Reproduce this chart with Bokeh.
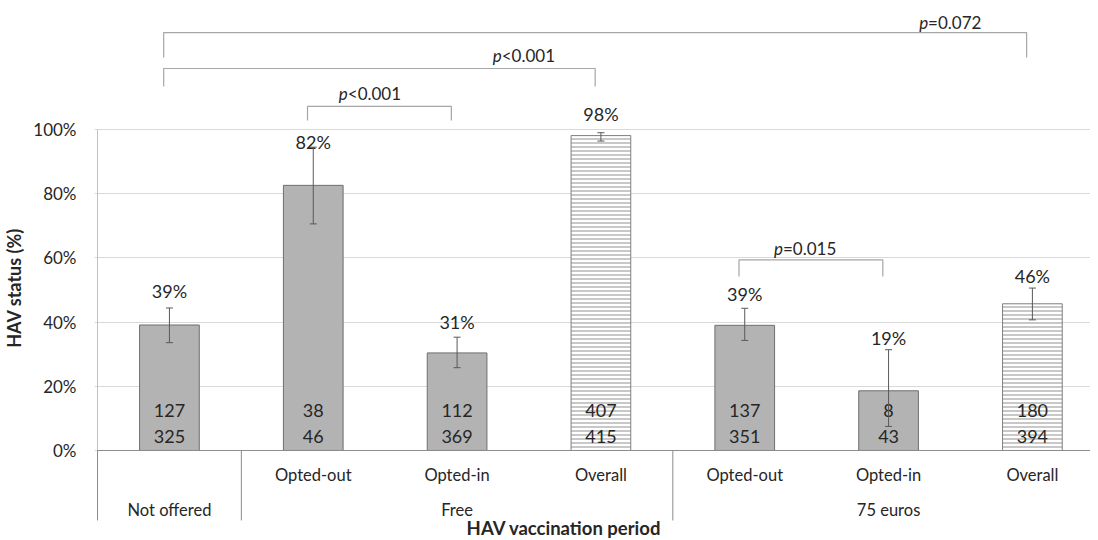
from bokeh.plotting import figure
from bokeh.models import Range1d, FixedTicker, NumeralTickFormatter, ColumnDataSource, Whisker, TeeHead
from bokeh.core.properties import value
from bokeh.embed import file_html
from bokeh.resources import INLINE

# ---------------- data ----------------
groups = ["Not offered", "Free", "Free", "Free", "75 euros", "75 euros", "75 euros"]
subcats = ["", "Opted-out", "Opted-in", "Overall", "Opted-out", "Opted-in", "Overall"]
pct = [0.391, 0.826, 0.304, 0.981, 0.390, 0.186, 0.457]
pct_labels = ["39%", "82%", "31%", "98%", "39%", "19%", "46%"]
ci_low = [0.336, 0.706, 0.258, 0.964, 0.343, 0.075, 0.407]
ci_high = [0.444, 0.945, 0.353, 0.990, 0.443, 0.314, 0.506]
numerators = [127, 38, 112, 407, 137, 8, 180]
denominators = [325, 46, 369, 415, 351, 43, 394]
is_overall = [False, False, False, True, False, False, True]

cmp_left = [0, 0, 1, 4]
cmp_right = [6, 3, 2, 5]
cmp_p = ["=0.072", "<0.001", "<0.001", "=0.015"]

y_ticks = [0, 0.2, 0.4, 0.6, 0.8, 1.0]

# ---------------- layout (positions) ----------------
label_y = [0.498, 0.960, 0.399, 1.047, 0.489, 0.352, 0.545]
bracket_top = [1.302, 1.190, 1.072, 0.594]
bracket_leg = [1.224, 1.134, 1.028, 0.542]
p_anchor_x = [5.275, 2.31, 1.24, 4.266]
p_anchor_y = [1.333, 1.231, 1.112, 0.629]

FONT = value("Lato")
TXT = "#262626"

idx = list(range(len(groups)))

p = figure(width=1090, height=540, output_backend="svg", toolbar_location=None,
           x_range=Range1d(-0.521, 6.404), y_range=Range1d(-0.2804, 1.4019),
           x_axis_location=None, min_border_left=87, min_border_right=0,
           min_border_top=0, min_border_bottom=0)
p.outline_line_color = None
p.xgrid.grid_line_color = None

# y axis
ax = p.yaxis[0]
ax.ticker = FixedTicker(ticks=y_ticks)
ax.formatter = NumeralTickFormatter(format="0%")
ax.axis_line_color = None
ax.major_tick_line_color = None
ax.minor_tick_line_color = None
ax.major_tick_out = 0
ax.major_label_standoff = 18
ax.major_label_text_font = "Lato"
ax.major_label_text_font_size = "17px"
ax.major_label_text_color = TXT
ax.axis_label = "HAV status (%)" + "\u00a0" * 8
ax.axis_label_text_font = "Lato"
ax.axis_label_text_font_style = "bold"
ax.axis_label_text_font_size = "18px"
ax.axis_label_text_color = TXT
ax.axis_label_standoff = 5
p.ygrid.grid_line_color = "#d9d9d9"
p.ygrid.grid_line_width = 1

# bars
solid_x = [i for i in idx if not is_overall[i]]
hatch_x = [i for i in idx if is_overall[i]]
p.vbar(x=solid_x, top=[pct[i] for i in solid_x], bottom=0, width=0.415,
       fill_color="#b3b3b3", line_color="#6e6e6e", line_width=1)
p.vbar(x=hatch_x, top=[pct[i] for i in hatch_x], bottom=0, width=0.415,
       fill_color="white", line_color="#7f7f7f", line_width=1,
       hatch_pattern="horizontal_line", hatch_color="#c8c8c8", hatch_scale=4, hatch_weight=2)

# table lines below axis and plot border
left_edge = -0.5
table_bottom = -0.218
p.segment(x0=[left_edge], y0=[1.0], x1=[left_edge], y1=[0], line_color="#bfbfbf", line_width=1)
bounds = [i - 0.5 for i in idx if i == 0 or groups[i] != groups[i - 1]] + [len(idx) - 0.5]
p.segment(x0=bounds, y0=[0] * len(bounds), x1=bounds, y1=[table_bottom] * len(bounds),
          line_color="#8c8c8c", line_width=1)
p.segment(x0=[left_edge], y0=[0], x1=[len(idx) - 0.5], y1=[0], line_color="#8c8c8c", line_width=1)

# counts inside bars
p.text(x=idx, y=[0] * len(idx), text=[str(n) for n in numerators], y_offset=-40,
       text_align="center", text_baseline="middle", text_font=FONT, text_font_size="18px", text_color=TXT)
p.text(x=idx, y=[0] * len(idx), text=[str(n) for n in denominators], y_offset=-14,
       text_align="center", text_baseline="middle", text_font=FONT, text_font_size="18px", text_color=TXT)

# error bars
src = ColumnDataSource(dict(x=idx, lower=ci_low, upper=ci_high))
wh = Whisker(source=src, base="x", lower="lower", upper="upper", level="annotation",
             line_color="#595959", line_width=1,
             upper_head=TeeHead(size=7, line_color="#595959", line_width=1),
             lower_head=TeeHead(size=7, line_color="#595959", line_width=1))
p.add_layout(wh)

# percentage labels
p.text(x=idx, y=label_y, text=pct_labels, text_align="center", text_baseline="middle",
       text_font=FONT, text_font_size="18px", text_color=TXT)

# category labels
sub_x = [i for i in idx if subcats[i]]
p.text(x=sub_x, y=[-0.075] * len(sub_x), text=[subcats[i] for i in sub_x],
       text_align="center", text_baseline="middle", text_font=FONT, text_font_size="16.5px", text_color=TXT)
grp_names = []
grp_x = []
for g in groups:
    if g not in grp_names:
        grp_names.append(g)
        members = [i for i in idx if groups[i] == g]
        grp_x.append(sum(members) / len(members))
p.text(x=grp_x, y=[-0.186] * len(grp_x), text=grp_names,
       text_align="center", text_baseline="middle", text_font=FONT, text_font_size="16.5px", text_color=TXT)
p.text(x=[2.744], y=[-0.241], text=["HAV vaccination period"], text_align="center", text_baseline="middle",
       text_font=FONT, text_font_size="18.5px", text_font_style="bold", text_color=TXT)

# comparison brackets
xs, ys = [], []
for l, r, t, g in zip(cmp_left, cmp_right, bracket_top, bracket_leg):
    xs.append([l - 0.04, l - 0.04, r - 0.04, r - 0.04])
    ys.append([g, t, t, g])
p.multi_line(xs=xs, ys=ys, line_color="#a6a6a6", line_width=1.2)
p.text(x=p_anchor_x, y=p_anchor_y, text=["p"] * len(cmp_p), text_align="right", text_baseline="middle",
       text_font=FONT, text_font_size="17px", text_font_style="italic", text_color=TXT)
p.text(x=p_anchor_x, y=p_anchor_y, text=cmp_p, text_align="left", text_baseline="middle",
       text_font=FONT, text_font_size="17px", text_color=TXT)

open("out.html", "w").write(file_html(p, INLINE))
